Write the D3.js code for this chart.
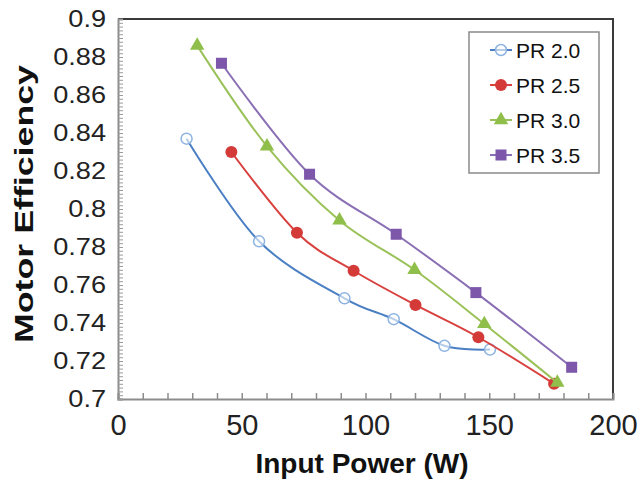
<!DOCTYPE html>
<html>
<head>
<meta charset="utf-8">
<script src="https://cdn.jsdelivr.net/npm/d3@7"></script>
<style>
  body { margin: 0; background: #fff; }
  svg { display: block; font-family: "Liberation Sans", Arial, sans-serif; }
</style>
</head>
<body>
<div id="chart"></div>
<script>
// values
const pr20X = [27.7, 57.0, 91.5, 111.4, 131.9, 150.3];
const pr20Y = [0.837, 0.783, 0.753, 0.742, 0.728, 0.726];
const pr25X = [45.8, 72.3, 95.2, 120.2, 145.6, 176.2];
const pr25Y = [0.830, 0.7875, 0.7675, 0.7495, 0.7325, 0.708];
const pr30X = [32.0, 60.2, 89.5, 119.8, 148.0, 177.5];
const pr30Y = [0.886, 0.833, 0.794, 0.768, 0.7395, 0.7086];
const pr35X = [41.8, 77.4, 112.4, 144.6, 183.3];
const pr35Y = [0.8767, 0.8183, 0.7867, 0.756, 0.7167];

const seriesNames = ["PR 2.0", "PR 2.5", "PR 3.0", "PR 3.5"];
const xTicks = [0, 50, 100, 150, 200];
const yTicks = [0.7, 0.72, 0.74, 0.76, 0.78, 0.8, 0.82, 0.84, 0.86, 0.88, 0.9];

const width = 640, height = 485;
const margin = { top: 19, right: 27, bottom: 86, left: 118 };
const innerWidth = width - margin.left - margin.right;
const innerHeight = height - margin.top - margin.bottom;

const series = [
  { name: seriesNames[0], xs: pr20X, ys: pr20Y, line: "#4a7fc4", fill: "none", stroke: "#8db3e2", shape: "circle" },
  { name: seriesNames[1], xs: pr25X, ys: pr25Y, line: "#d9413f", fill: "#d33a38", stroke: "#d33a38", shape: "dot" },
  { name: seriesNames[2], xs: pr30X, ys: pr30Y, line: "#9bc25a", fill: "#8fbf4a", stroke: "#8fbf4a", shape: "triangle" },
  { name: seriesNames[3], xs: pr35X, ys: pr35Y, line: "#8a6fb5", fill: "#7d57aa", stroke: "#7d57aa", shape: "square" }
];

const svg = d3.select("#chart").append("svg")
  .attr("width", width)
  .attr("height", height);

const inner = svg.append("g")
  .attr("transform", `translate(${margin.left},${margin.top})`);

const xScale = d3.scaleLinear().domain([0, 200]).range([0, innerWidth]);
const yScale = d3.scaleLinear().domain([0.7, 0.9]).range([innerHeight, 0]);

// top and right frame lines
inner.append("path")
  .attr("d", `M0,0H${innerWidth}V${innerHeight}`)
  .attr("fill", "none")
  .attr("stroke", "#3a3a3a")
  .attr("stroke-width", 2);

// minor ticks (pointing inside)
const xMinor = inner.append("g")
  .attr("transform", `translate(0,${innerHeight})`)
  .call(d3.axisBottom(xScale).tickValues(d3.range(0, 201, 10)).tickSize(-6).tickFormat(""));
xMinor.select(".domain").attr("stroke", "#8c8c8c").attr("stroke-width", 2);
xMinor.selectAll(".tick line").attr("stroke", "#8c8c8c").attr("stroke-width", 1.5);
xMinor.selectAll(".tick text").remove();

const yMinor = inner.append("g")
  .call(d3.axisLeft(yScale).tickValues(d3.range(0, 101).map(i => 0.7 + i * 0.002)).tickSize(-5).tickFormat(""));
yMinor.select(".domain").attr("stroke", "#8c8c8c").attr("stroke-width", 2);
yMinor.selectAll(".tick line").attr("stroke", "#9a9a9a").attr("stroke-width", 1);
yMinor.selectAll(".tick text").remove();

// tick labels
const xAxis = inner.append("g")
  .attr("transform", `translate(0,${innerHeight})`)
  .call(d3.axisBottom(xScale).tickValues(xTicks).tickSize(0).tickPadding(15).tickFormat(d3.format("d")));
xAxis.select(".domain").remove();
xAxis.selectAll("text").attr("font-size", "29px").attr("fill", "#222")
  .attr("font-family", "Liberation Sans, Arial, sans-serif");

// y labels are drawn a bit wider than normal, as in the source picture
const yStretch = 1.18;
const yAxis = inner.append("g")
  .call(d3.axisLeft(yScale).tickValues(yTicks).tickSize(0).tickPadding(12).tickFormat(d => String(+d.toFixed(2))));
yAxis.select(".domain").remove();
yAxis.selectAll("text").attr("font-size", "23px").attr("fill", "#222")
  .attr("font-family", "Liberation Sans, Arial, sans-serif")
  .attr("x", -12 / yStretch)
  .attr("transform", `scale(${yStretch},1)`);

// axis titles
svg.append("text")
  .text("Input Power (W)")
  .attr("x", 362)
  .attr("y", 473)
  .attr("text-anchor", "middle")
  .attr("font-size", "28px")
  .attr("font-weight", "bold")
  .attr("fill", "#111");

svg.append("text")
  .text("Motor Efficiency")
  .attr("transform", "translate(33,204) rotate(-90) scale(1.43,1)")
  .attr("text-anchor", "middle")
  .attr("font-size", "25px")
  .attr("font-weight", "bold")
  .attr("fill", "#111");

// lines
const line = d3.line()
  .x(d => xScale(d[0]))
  .y(d => yScale(d[1]))
  .curve(d3.curveCatmullRom.alpha(0));

const drawMarker = (g, s, x, y) => {
  if (s.shape === "circle") {
    g.append("circle").attr("cx", x).attr("cy", y).attr("r", 5.5)
      .attr("fill", "#fff").attr("fill-opacity", 0.6).attr("stroke", s.stroke).attr("stroke-width", 1.5);
  } else if (s.shape === "dot") {
    g.append("circle").attr("cx", x).attr("cy", y).attr("r", 6).attr("fill", s.fill);
  } else if (s.shape === "triangle") {
    g.append("path").attr("transform", `translate(${x},${y})`)
      .attr("d", d3.symbol(d3.symbolTriangle, 90)()).attr("fill", s.fill);
  } else {
    g.append("rect").attr("x", x - 5.5).attr("y", y - 5.5).attr("width", 11).attr("height", 11).attr("fill", s.fill);
  }
};

series.forEach(s => {
  const pts = s.xs.map((x, i) => [x, s.ys[i]]);
  inner.append("path")
    .datum(pts)
    .attr("d", line)
    .attr("fill", "none")
    .attr("stroke", s.line)
    .attr("stroke-width", 2);
  const mg = inner.append("g");
  pts.forEach(p => drawMarker(mg, s, xScale(p[0]), yScale(p[1])));
});

// legend
const legend = svg.append("g").attr("transform", "translate(469,32)");
legend.append("rect")
  .attr("width", 130).attr("height", 141)
  .attr("fill", "#fff").attr("stroke", "#8a8a8a").attr("stroke-width", 1.5);

series.forEach((s, i) => {
  const cy = 18 + i * 35;
  legend.append("line")
    .attr("x1", 21).attr("x2", 43).attr("y1", cy).attr("y2", cy)
    .attr("stroke", s.line).attr("stroke-width", 2);
  drawMarker(legend, s, 32, cy);
  legend.append("text")
    .attr("x", 47).attr("y", cy + 7.5)
    .attr("font-size", "21px")
    .attr("fill", "#111")
    .text(s.name);
});
</script>
</body>
</html>
